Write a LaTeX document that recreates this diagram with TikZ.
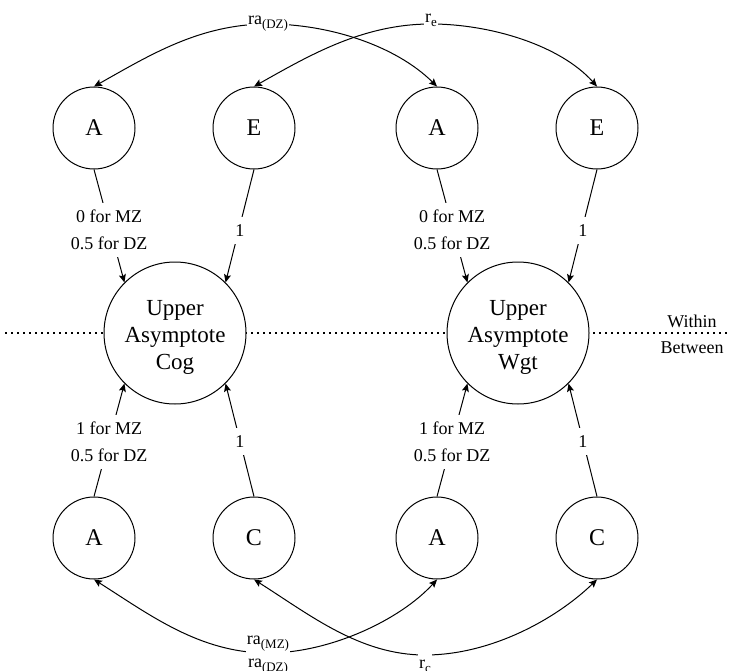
\documentclass[tikz,border=0pt]{standalone}
\usepackage{fontspec}
\setmainfont{Liberation Serif}
\usetikzlibrary{arrows.meta}
% lowered, smaller text for the correlation subscripts
\newcommand\subtxt[1]{\raisebox{-4pt}{\fontsize{13}{13}\selectfont #1}}
\begin{document}
\begin{tikzpicture}[x=1pt,y=-1pt,
  line width=1pt,
  >={Stealth[length=8pt,width=7pt,inset=1.5pt]},
  unit/.style={circle, draw, fill=white, minimum size=82pt, inner sep=0pt,
    font=\fontsize{24}{28}\selectfont},
  factor/.style={circle, draw, fill=white, minimum size=142pt, inner sep=0pt},
  factortext/.style={align=center, yshift=-4pt, font=\fontsize{23}{27}\selectfont},
  pathlbl/.style={fill=white, inner xsep=2pt, inner ysep=7pt, align=center,
    font=\fontsize{18}{27}\selectfont},
  corrlbl/.style={fill=white, inner xsep=1pt, inner ysep=2pt, align=center,
    font=\fontsize{18}{23}\selectfont},
  levellbl/.style={font=\fontsize{18}{22}\selectfont},
  divider/.style={line width=1.5pt, dash pattern=on 1.5pt off 4.5pt}
]
\useasboundingbox (0,0) rectangle (730,671);

% within / between divider
\coordinate (divL) at (5,333);
\coordinate (divR) at (727,333);
\draw[divider] (divL) -- (divR);
\node[levellbl, anchor=base] (within) at (692,327) {Within};
\node[levellbl, anchor=base] (between) at (692,353) {Between};

% latent factors
\node[factor, label={[factortext]center:Upper\\Asymptote\\Cog}] (Cog) at (175,333) {};
\node[factor, label={[factortext]center:Upper\\Asymptote\\Wgt}] (Wgt) at (518,333) {};

% within-level components
\node[unit] (Ta1) at (94,128) {A};
\node[unit] (Te1) at (254,128) {E};
\node[unit] (Ta2) at (437,128) {A};
\node[unit] (Te2) at (597,128) {E};

% between-level components
\node[unit] (Ba1) at (94,538) {A};
\node[unit] (Bc1) at (254,538) {C};
\node[unit] (Ba2) at (437,538) {A};
\node[unit] (Bc2) at (597,538) {C};

% loadings
\draw[->] (Ta1.south) -- node[pathlbl, yshift=-4pt] {0 for MZ\\0.5 for DZ} (Cog.135);
\draw[->] (Te1.south) -- node[pathlbl, inner ysep=8pt, yshift=-4.5pt] {1} (Cog.45);
\draw[->] (Ba1.north) -- node[pathlbl, yshift=-2pt] {1 for MZ\\0.5 for DZ} (Cog.225);
\draw[->] (Bc1.north) -- node[pathlbl, inner ysep=8pt, yshift=-1.5pt] {1} (Cog.315);

\draw[->] (Ta2.south) -- node[pathlbl, yshift=-4pt] {0 for MZ\\0.5 for DZ} (Wgt.135);
\draw[->] (Te2.south) -- node[pathlbl, inner ysep=8pt, yshift=-4.5pt] {1} (Wgt.45);
\draw[->] (Ba2.north) -- node[pathlbl, yshift=-2pt] {1 for MZ\\0.5 for DZ} (Wgt.225);
\draw[->] (Bc2.north) -- node[pathlbl, inner ysep=8pt, yshift=-1.5pt] {1} (Wgt.315);

% cross-trait correlations
\coordinate (kDZ) at (268,24);
\coordinate (kE) at (431,24);
\coordinate (kMZ) at (268,653);
\coordinate (kC) at (425,655);

\draw[<->] (Ta1.north) .. controls (150,55) and (200,24) .. (kDZ)
  .. controls (328,24) and (395,45) .. (Ta2.north);
\draw[<->] (Te1.north) .. controls (310,55) and (363,24) .. (kE)
  .. controls (490,24) and (560,45) .. (Te2.north);
\draw[<->] (Ba1.south) .. controls (150,615) and (200,653) .. (kMZ)
  .. controls (330,653) and (400,620) .. (Ba2.south);
\draw[<->] (Bc1.south) .. controls (310,615) and (360,655) .. (kC)
  .. controls (490,655) and (555,620) .. (Bc2.south);

\node[corrlbl, anchor=base] (lDZ) at (268,25) {ra\subtxt{(DZ)}};
\node[corrlbl, anchor=base] (lE) at (431,23) {r\subtxt{e}};
\node[corrlbl] (lMZ) at (268,655) {ra\subtxt{(MZ)}\\ra\subtxt{(DZ)}};
\node[corrlbl, anchor=base, inner ysep=6pt] (lC) at (425,668) {r\subtxt{c}};
\end{tikzpicture}
\end{document}
